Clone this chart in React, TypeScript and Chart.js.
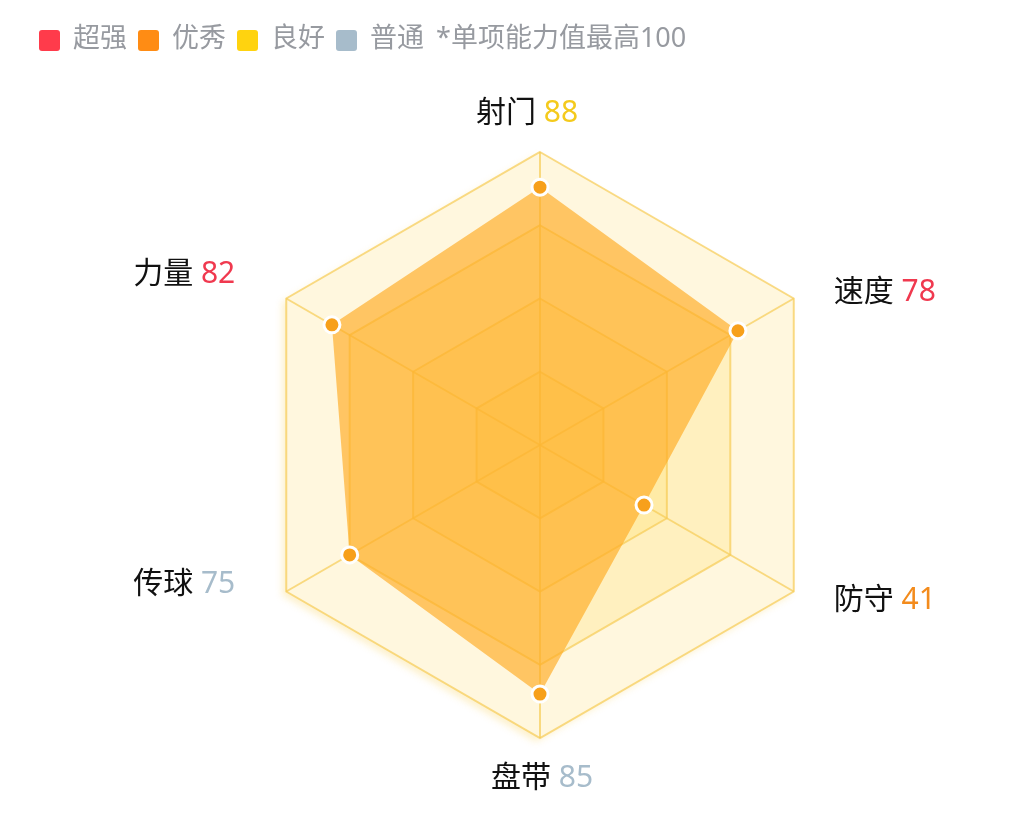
import React, { useEffect, useRef } from 'react';
import { Chart, registerables } from 'chart.js';

Chart.register(...registerables);

// ---- data ----
const categories = ['射门', '速度', '防守', '盘带', '传球', '力量'];
const values = [88, 78, 41, 85, 75, 82];
const valueLevels = [2, 0, 1, 3, 3, 0]; // index into levels
const levels = ['超强', '优秀', '良好', '普通'];
const note = '*单项能力值最高100';
const scaleMax = 100;
const scaleStep = 25;

// ---- style ----
const levelColors = ['#ff3b4b', '#ff8c14', '#ffd30f', '#a7bccb'];
const levelTextColors = ['#f0394f', '#f38b1c', '#f4ca1c', '#a7bccb'];
const FONT = '"Noto Sans", "Noto Sans CJK SC", sans-serif';
const labelLayout = [
  { dx: -13, dy: -39, align: 'center' },
  { dx: 40, dy: -6, align: 'left' },
  { dx: 40, dy: 9, align: 'left' },
  { dx: 2, dy: 40, align: 'center' },
  { dx: -51, dy: -7, align: 'right' },
  { dx: -51, dy: -24, align: 'right' },
];

const ringPlugin = {
  id: 'ringFills',
  beforeDraw(chart: any) {
    const scale = chart.scales.r;
    const ctx = chart.ctx;
    const n = chart.data.labels.length;
    const tickVals = scale.ticks
      .map((t: any) => t.value)
      .filter((v: number) => v > 0)
      .sort((a: number, b: number) => b - a);
    tickVals.forEach((v: number, k: number) => {
      const r = scale.getDistanceFromCenterForValue(v);
      ctx.save();
      ctx.beginPath();
      for (let i = 0; i < n; i++) {
        const p = scale.getPointPosition(i, r);
        if (i === 0) ctx.moveTo(p.x, p.y);
        else ctx.lineTo(p.x, p.y);
      }
      ctx.closePath();
      if (k === 0) {
        ctx.shadowColor = 'rgba(250, 210, 90, 0.3)';
        ctx.shadowBlur = 7;
        ctx.shadowOffsetX = -4;
        ctx.shadowOffsetY = 4;
        ctx.fillStyle = 'rgb(255, 247, 222)';
      } else {
        ctx.fillStyle = 'rgba(255, 214, 70, 0.2)';
      }
      ctx.fill();
      ctx.restore();
    });
  },
};

const labelPlugin = {
  id: 'twoColorLabels',
  afterDraw(chart: any) {
    const scale = chart.scales.r;
    const ctx = chart.ctx;
    ctx.save();
    ctx.font = `30px ${FONT}`;
    ctx.textBaseline = 'middle';
    ctx.textAlign = 'left';
    categories.forEach((name, i) => {
      const p = scale.getPointPosition(i, scale.drawingArea);
      const o = labelLayout[i];
      const head = name + ' ';
      const val = String(values[i]);
      const wHead = ctx.measureText(head).width;
      const wVal = ctx.measureText(val).width;
      const total = wHead + wVal;
      let x0 = p.x + o.dx;
      if (o.align === 'right') x0 -= total;
      else if (o.align === 'center') x0 -= total / 2;
      const y = p.y + o.dy;
      ctx.fillStyle = '#111';
      ctx.fillText(head, x0, y);
      ctx.fillStyle = levelTextColors[valueLevels[i]];
      ctx.fillText(val, x0 + wHead, y);
    });
    ctx.restore();
  },
};

export default function App() {
  const ref = useRef<HTMLCanvasElement | null>(null);

  useEffect(() => {
    if (!ref.current) return;
    const chart = new Chart(ref.current, {
      type: 'radar',
      data: {
        labels: categories,
        datasets: [
          {
            data: values,
            backgroundColor: 'rgba(255, 172, 35, 0.66)',
            borderWidth: 0,
            pointBackgroundColor: '#f7a01b',
            pointBorderColor: '#ffffff',
            pointBorderWidth: 3,
            pointRadius: 8,
            pointHoverRadius: 8,
          },
        ],
      },
      options: {
        responsive: false,
        animation: false,
        devicePixelRatio: 1,
        layout: { padding: { top: 152, bottom: 102, left: 200, right: 148 } },
        plugins: { legend: { display: false }, tooltip: { enabled: false } },
        scales: {
          r: {
            min: 0,
            max: scaleMax,
            ticks: { display: false, stepSize: scaleStep },
            pointLabels: { display: false },
            grid: { color: 'rgba(246, 204, 85, 0.7)', lineWidth: 2 },
            angleLines: { color: 'rgba(246, 204, 85, 0.7)', lineWidth: 2 },
          },
        },
      },
      plugins: [ringPlugin, labelPlugin],
    } as any);
    return () => chart.destroy();
  }, []);

  return (
    <div style={{ position: 'fixed', left: 0, top: 0, width: 1028, height: 840, background: '#fff', fontFamily: FONT }}>
      <canvas ref={ref} width={1028} height={840} style={{ width: 1028, height: 840, display: 'block' }} />
      <div
        style={{
          position: 'absolute',
          left: 39,
          top: 18,
          height: 37,
          display: 'flex',
          alignItems: 'center',
          fontSize: 27,
          lineHeight: '37px',
          color: '#979aa0',
          whiteSpace: 'nowrap',
        }}
      >
        {levels.map((lv, i) => (
          <span key={lv} style={{ display: 'flex', alignItems: 'center', marginRight: i < levels.length - 1 ? 11 : 12 }}>
            <span style={{ width: 21, height: 21, borderRadius: 3, background: levelColors[i], marginRight: 13, display: 'inline-block', position: 'relative', top: 4 }} />
            <span>{lv}</span>
          </span>
        ))}
        <span>{note}</span>
      </div>
    </div>
  );
}
